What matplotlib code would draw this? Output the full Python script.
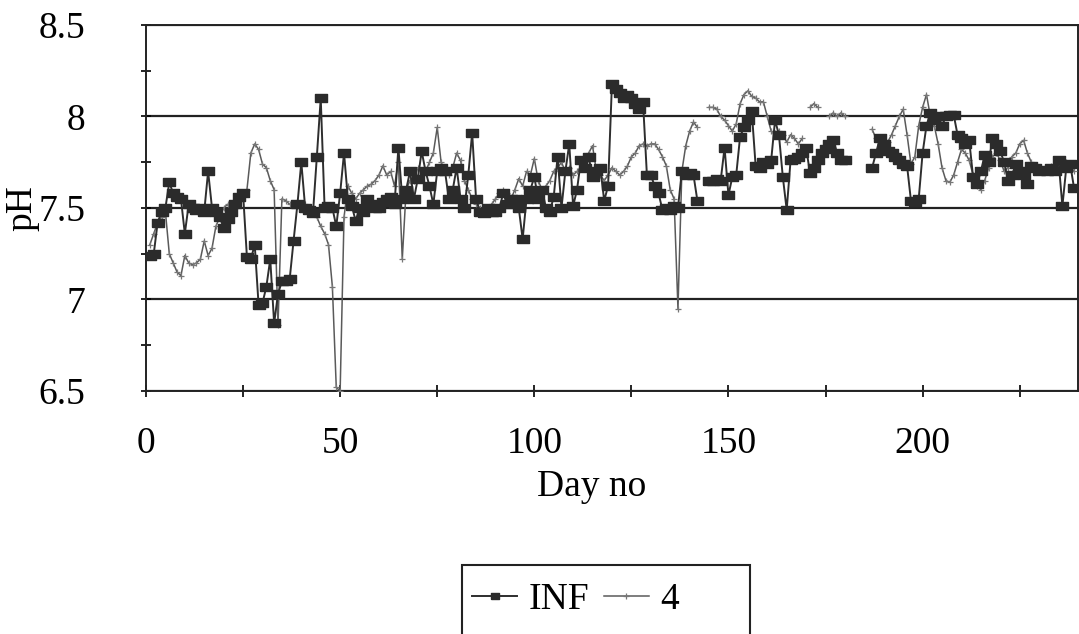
import numpy as np
import matplotlib
matplotlib.use("Agg")
import matplotlib.pyplot as plt
from matplotlib.ticker import MultipleLocator
from matplotlib.patches import Rectangle

plt.rcParams['font.family'] = ['Liberation Serif', 'DejaVu Serif']

nan = np.nan

# pH readings, one per day (day 1 .. 239), nan = no reading
ph_inf = [
    7.24, 7.25, 7.42, 7.48, 7.50, 7.64, 7.58, 7.56, 7.55, 7.36,
    7.52, 7.50, 7.49, 7.50, 7.48, 7.70, 7.50, 7.48, 7.45, 7.39,
    7.44, 7.48, 7.52, 7.56, 7.58, 7.23, 7.22, 7.30, 6.97, 6.98,
    7.07, 7.22, 6.87, 7.03, 7.10, 7.10, 7.11, 7.32, 7.52, 7.75,
    7.50, 7.49, 7.47, 7.78, 8.10, 7.50, 7.51, 7.50, 7.40, 7.58,
    7.80, 7.55, 7.51, 7.43, 7.50, 7.48, 7.55, 7.52, 7.50, 7.50,
    7.53, 7.55, 7.56, 7.52, 7.83, 7.55, 7.60, 7.70, 7.55, 7.66,
    7.81, 7.70, 7.62, 7.52, 7.70, 7.72, 7.70, 7.55, 7.60, 7.72,
    7.55, 7.50, 7.68, 7.91, 7.55, 7.48, 7.47, 7.50, 7.48, 7.48,
    7.50, 7.58, 7.52, 7.55, 7.55, 7.50, 7.33, 7.55, 7.60, 7.67,
    7.55, 7.60, 7.50, 7.48, 7.56, 7.78, 7.50, 7.70, 7.85, 7.51,
    7.60, 7.76, 7.72, 7.78, 7.67, 7.70, 7.72, 7.54, 7.62, 8.18,
    8.15, 8.13, 8.10, 8.12, 8.10, 8.07, 8.04, 8.08, 7.68, 7.68,
    7.62, 7.58, 7.49, 7.50, 7.49, 7.51, 7.50, 7.70, 7.68, 7.69,
    7.68, 7.54, nan, nan, 7.65, 7.65, 7.66, 7.65, 7.83, 7.57,
    7.67, 7.68, 7.89, 7.94, 7.98, 8.03, 7.73, 7.72, 7.75, 7.74,
    7.76, 7.98, 7.90, 7.67, 7.49, 7.76, 7.77, 7.78, 7.80, 7.83,
    7.69, 7.72, 7.76, 7.80, 7.82, 7.85, 7.87, 7.80, 7.76, 7.76,
    nan, nan, nan, nan, nan, nan, 7.72, 7.80, 7.88, 7.85,
    7.81, 7.80, 7.78, 7.76, 7.74, 7.73, 7.54, 7.53, 7.55, 7.80,
    7.95, 8.02, 7.98, 8.00, 7.95, 8.00, 8.01, 8.01, 7.90, 7.88,
    7.85, 7.87, 7.67, 7.63, 7.70, 7.79, 7.75, 7.88, 7.85, 7.81,
    7.75, 7.65, 7.68, 7.74, 7.70, 7.68, 7.63, 7.73, 7.72, 7.70,
    7.71, 7.70, 7.72, 7.70, 7.76, 7.51, 7.72, 7.74, 7.61,
]

ph_4 = [
    7.30, 7.36, 7.42, 7.45, 7.48, 7.25, 7.20, 7.15, 7.13, 7.24,
    7.20, 7.19, 7.20, 7.22, 7.32, 7.24, 7.28, 7.40, 7.45, 7.50,
    7.52, 7.48, 7.50, 7.55, 7.57, 7.60, 7.80, 7.85, 7.82, 7.74,
    7.72, 7.65, 7.60, 6.86, 7.55, 7.54, 7.52, 7.52, 7.51, 7.52,
    7.52, 7.50, 7.48, 7.45, 7.40, 7.36, 7.30, 7.07, 6.52, 6.50,
    7.45, 7.62, 7.58, 7.55, 7.58, 7.60, 7.62, 7.63, 7.65, 7.68,
    7.73, 7.68, 7.70, 7.62, 7.75, 7.22, 7.60, 7.65, 7.65, 7.72,
    7.70, 7.70, 7.75, 7.80, 7.94, 7.75, 7.70, 7.68, 7.72, 7.80,
    7.76, 7.65, 7.60, 7.55, 7.52, 7.50, 7.48, 7.50, 7.52, 7.55,
    7.58, 7.60, 7.58, 7.55, 7.60, 7.66, 7.62, 7.70, 7.68, 7.77,
    7.65, 7.60, 7.62, 7.65, 7.70, 7.72, 7.75, 7.70, 7.72, 7.68,
    7.70, 7.72, 7.75, 7.80, 7.84, 7.70, 7.68, 7.65, 7.68, 7.72,
    7.70, 7.68, 7.70, 7.73, 7.78, 7.80, 7.84, 7.85, 7.84, 7.85,
    7.85, 7.82, 7.78, 7.73, 7.60, 7.55, 6.95, 7.70, 7.84, 7.92,
    7.97, 7.94, nan, nan, 8.05, 8.05, 8.04, 8.00, 7.98, 7.95,
    7.92, 7.96, 8.07, 8.12, 8.14, 8.11, 8.10, 8.08, 8.08, 8.00,
    7.92, 7.91, 7.92, 7.90, 7.86, 7.90, 7.88, 7.85, 7.88, nan,
    8.05, 8.07, 8.05, nan, nan, 8.00, 8.02, 8.00, 8.02, 8.00,
    nan, nan, nan, nan, nan, nan, 7.93, 7.88, 7.85, 7.82,
    7.86, 7.90, 7.95, 8.00, 8.04, 7.90, 7.74, 7.78, 7.95, 8.05,
    8.12, 8.00, 7.95, 7.85, 7.72, 7.65, 7.64, 7.68, 7.75, 7.82,
    7.80, 7.76, 7.68, 7.62, 7.60, 7.65, 7.72, 7.78, 7.80, 7.76,
    7.70, 7.72, 7.78, 7.80, 7.85, 7.87, 7.80, 7.75, 7.73, 7.71,
    7.70, 7.72, 7.73, 7.70, 7.74, 7.72, 7.75, 7.73, 7.70,
]

days = np.arange(1, len(ph_inf) + 1)

# flat rectangular marker like the original chart
rect_marker = [(-1.4, -1), (1.4, -1), (1.4, 1), (-1.4, 1), (-1.4, -1)]

fig = plt.figure(figsize=(10.79, 6.34), dpi=100)
ax = fig.add_axes([0.1353, 0.3833, 0.8637, 0.5773])

# series "4": thin grey line with small cross markers
ax.plot(days, ph_4, color='#5a5a5a', lw=1.1, marker='+', ms=5, mew=0.9,
        mec='#777777', label='4', zorder=3)
# influent: dark line with rectangular markers
ax.plot(days, ph_inf, color='#2e2e2e', lw=1.4, marker=rect_marker, ms=8,
        mfc='#2b2b2b', mec='#2b2b2b', label='INF', zorder=4)

ax.set_xlim(0, 240)
ax.set_ylim(6.5, 8.5)
ax.xaxis.set_major_locator(MultipleLocator(50))
ax.xaxis.set_minor_locator(MultipleLocator(25))
ax.yaxis.set_minor_locator(MultipleLocator(0.25))
ax.set_yticks([6.5, 7, 7.5, 8, 8.5])
ax.set_yticklabels(['6.5', '7', '7.5', '8', '8.5'])

ax.grid(axis='y', which='major', color='#222222', lw=1.6)
ax.set_axisbelow(True)
for s in ax.spines.values():
    s.set_color('#222222')
    s.set_linewidth(1.4)

ax.tick_params(axis='x', which='both', direction='inout', length=9, width=1.2,
               labelsize=27, pad=21)
ax.tick_params(axis='y', which='both', direction='inout', length=7, width=1.2,
               labelsize=27, pad=40)

ax.set_xlabel('Day no', fontsize=27)
ax.xaxis.set_label_coords(0.478, -0.215)
ax.set_ylabel('pH', fontsize=27)
ax.yaxis.set_label_coords(-0.114, 0.5)

h, l = ax.get_legend_handles_labels()
leg = fig.legend(h[::-1], l[::-1], loc='center left', ncol=2,
                 bbox_to_anchor=(472 / 1079, 1 - 600 / 634), fontsize=27,
                 frameon=False, handlelength=1.2, handletextpad=0.3,
                 columnspacing=0.4, borderpad=0, borderaxespad=0,
                 markerscale=0.8)

# legend box drawn separately (wider than its contents, as in the original)
fig.add_artist(Rectangle((462 / 1079, 1 - 645 / 634), (750 - 462) / 1079,
                         80 / 634, transform=fig.transFigure, fill=False,
                         edgecolor='#222222', lw=1.5))

fig.savefig('out.png', dpi=100)
